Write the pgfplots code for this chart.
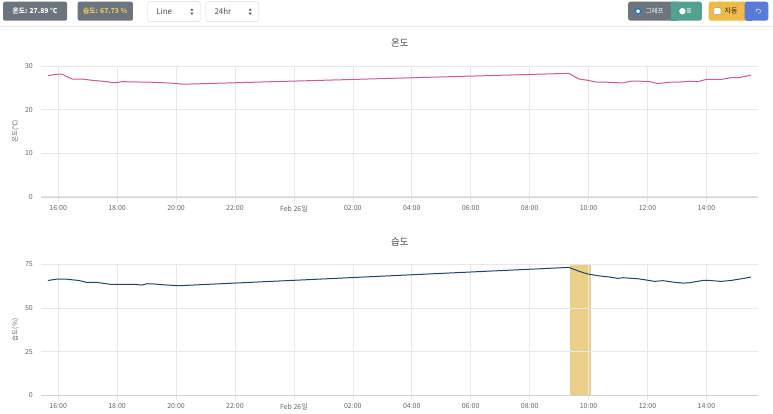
\documentclass[border=0pt]{standalone}
\usepackage{fontspec}
\setmainfont{Noto Sans CJK KR}
\usepackage{pgfplots}
\pgfplotsset{compat=1.18}
\definecolor{gridc}{RGB}{230,231,239}
\definecolor{tempc}{RGB}{201,92,155}
\definecolor{humc}{RGB}{30,70,108}
\definecolor{bandc}{RGB}{234,207,135}
\definecolor{badgegray}{RGB}{108,117,125}
\definecolor{badgeyel}{RGB}{236,196,98}
\definecolor{tealc}{RGB}{82,160,142}
\definecolor{warnc}{RGB}{240,186,72}
\definecolor{bluec}{RGB}{88,122,216}
\definecolor{radioc}{RGB}{0,110,255}
\definecolor{tickc}{RGB}{102,102,102}
\definecolor{titlec}{RGB}{68,68,68}
\definecolor{selc}{RGB}{73,80,87}
\pgfplotsset{
  mystyle/.style={
    set layers,
    scale only axis, width=717.7pt, height=131pt,
    anchor=south west,
    xmin=15.43, xmax=39.76, ymin=0,
    axis x line*=bottom, axis y line*=left,
    x axis line style={draw=black!18,-}, y axis line style={draw=none},
    xtick={16,18,...,38},
    xticklabels={16:00,18:00,20:00,22:00,Feb 26일,02:00,04:00,06:00,08:00,10:00,12:00,14:00},
    grid=major, grid style={draw=gridc, line width=0.6pt},
    tick align=outside, major tick length=5pt,
    xtick style={draw=gridc, line width=0.6pt}, ytick style={draw=none},
    ticklabel style={font=\fontsize{7}{8}\selectfont, text=tickc},
    /pgf/number format/assume math mode=true,
    title style={font=\fontsize{9.5}{11}\selectfont, text=titlec, at={(axis description cs:0.5,1)}, anchor=center, yshift=17pt},
    ylabel style={font=\fontsize{6.5}{8}\selectfont, text=tickc, at={(axis description cs:-0.0362,0.5)}, anchor=center},
  }
}
\begin{document}
\begin{tikzpicture}
\path (0pt,0pt) rectangle (773pt,412pt);
% toolbar
\fill[badgegray, rounded corners=2pt] (2.7pt,391.3pt) rectangle (66.7pt,410.3pt);
\node[text=white, font=\bfseries\fontsize{6.8}{8}\selectfont] at (34.7pt,400.8pt) {온도: 27.89 °C};
\fill[badgegray, rounded corners=2pt] (77.3pt,391.3pt) rectangle (132.7pt,410.3pt);
\node[text=badgeyel, font=\bfseries\fontsize{6.8}{8}\selectfont] at (105pt,400.8pt) {습도: 67.73 \%};
\draw[black!15, fill=white, rounded corners=2.5pt] (147.3pt,390.3pt) rectangle (200.3pt,410.3pt);
\node[text=selc, anchor=west, font=\fontsize{8}{9}\selectfont] at (152.5pt,400.3pt) {Line};
\fill[selc] (190.2pt,401.3pt) -- (193.2pt,401.3pt) -- (191.7pt,403.6pt) -- cycle;
\fill[selc] (190.2pt,399.3pt) -- (193.2pt,399.3pt) -- (191.7pt,397.0pt) -- cycle;
\draw[black!15, fill=white, rounded corners=2.5pt] (205.7pt,390.3pt) rectangle (258.7pt,410.3pt);
\node[text=selc, anchor=west, font=\fontsize{8}{9}\selectfont] at (210.8pt,400.3pt) {24hr};
\fill[selc] (248.5pt,401.3pt) -- (251.5pt,401.3pt) -- (250pt,403.6pt) -- cycle;
\fill[selc] (248.5pt,399.3pt) -- (251.5pt,399.3pt) -- (250pt,397.0pt) -- cycle;
% right buttons
\fill[badgegray, rounded corners=2.5pt] (628.3pt,391.3pt) rectangle (680pt,410.3pt);
\fill[tealc, rounded corners=2.5pt] (672pt,391.3pt) rectangle (702.3pt,410.3pt);
\fill[tealc] (671.7pt,391.3pt) rectangle (676pt,410.3pt);
\draw[fill=white, draw=radioc, line width=1.1pt] (638.3pt,400.8pt) circle (2.6pt);
\node[text=white, font=\fontsize{6.5}{8}\selectfont] at (655pt,400.8pt) {그래프};
\fill[white] (682.7pt,400.8pt) circle (3.2pt);
\node[text=white, font=\fontsize{6.5}{8}\selectfont] at (689.5pt,400.8pt) {표};
\fill[warnc, rounded corners=2.5pt] (709pt,391.3pt) rectangle (752pt,410.3pt);
\fill[bluec, rounded corners=2.5pt] (745pt,391.3pt) rectangle (768.7pt,410.3pt);
\fill[bluec] (747.7pt,391.3pt) rectangle (752pt,410.3pt);
\draw[fill=white, draw=black!40, line width=0.4pt, rounded corners=1pt] (714.2pt,397.3pt) rectangle (721.2pt,404.3pt);
\node[text=black!85, font=\fontsize{7}{8}\selectfont] at (731.5pt,400.8pt) {자동};
\draw[white!75!bluec, line width=0.6pt] (758.7pt,398.6pt) arc[start angle=-90, end angle=200, radius=2.2pt];
\fill[white!75!bluec] (756.2pt,401.8pt) -- (757.8pt,401.6pt) -- (756.5pt,403.3pt) -- cycle;
\draw[black!8, line width=0.8pt] (0pt,385.3pt) -- (773pt,385.3pt);

% temperature
\begin{axis}[mystyle, at={(41pt,215pt)}, ymax=30, ytick={0,10,20,30},
  title={온도}, ylabel={온도(℃)}]
\addplot[tempc, line width=1pt] coordinates {
(15.65,27.8)(16.0,28.1)(16.13,28.1)(16.47,27.0)(16.81,27.0)(17.15,26.7)(17.66,26.4)(17.83,26.2)(18.0,26.2)(18.17,26.4)(18.79,26.3)(19.24,26.25)(19.69,26.1)(20.0,26.0)(20.2,25.8)(33.33,28.3)(33.67,27.0)(33.98,26.7)(34.26,26.3)(34.71,26.25)(35.16,26.1)(35.44,26.5)(35.78,26.5)(36.07,26.4)(36.35,25.95)(36.69,26.25)(37.08,26.3)(37.42,26.5)(37.71,26.4)(37.99,26.9)(38.5,26.9)(38.83,27.3)(39.12,27.35)(39.51,27.89)
};
\end{axis}

% humidity
\begin{axis}[mystyle, at={(41pt,16.3pt)}, ymax=75, ytick={0,25,50,75},
  title={습도}, ylabel={습도(\%)}]
\addplot[on layer=axis background, fill=bandc, draw=none] coordinates {(33.37,0)(33.37,75)(34.08,75)(34.08,0)} -- cycle;
\addplot[humc, line width=1pt] coordinates {
(15.65,65.8)(15.97,66.6)(16.25,66.6)(16.7,65.8)(16.98,64.7)(17.32,64.7)(17.77,63.6)(18.56,63.6)(18.85,63.2)(19.02,63.95)(19.24,63.8)(19.69,63.2)(20.09,62.8)(33.33,73.3)(33.69,71.0)(33.98,69.5)(34.37,68.4)(34.71,67.8)(34.99,67.0)(35.16,67.4)(35.67,66.8)(35.95,66.1)(36.24,65.3)(36.52,65.7)(36.86,64.9)(37.2,64.3)(37.42,64.5)(37.87,65.8)(38.1,65.8)(38.5,65.3)(38.83,65.8)(39.12,66.6)(39.51,67.73)
};
\end{axis}
\end{tikzpicture}
\end{document}
